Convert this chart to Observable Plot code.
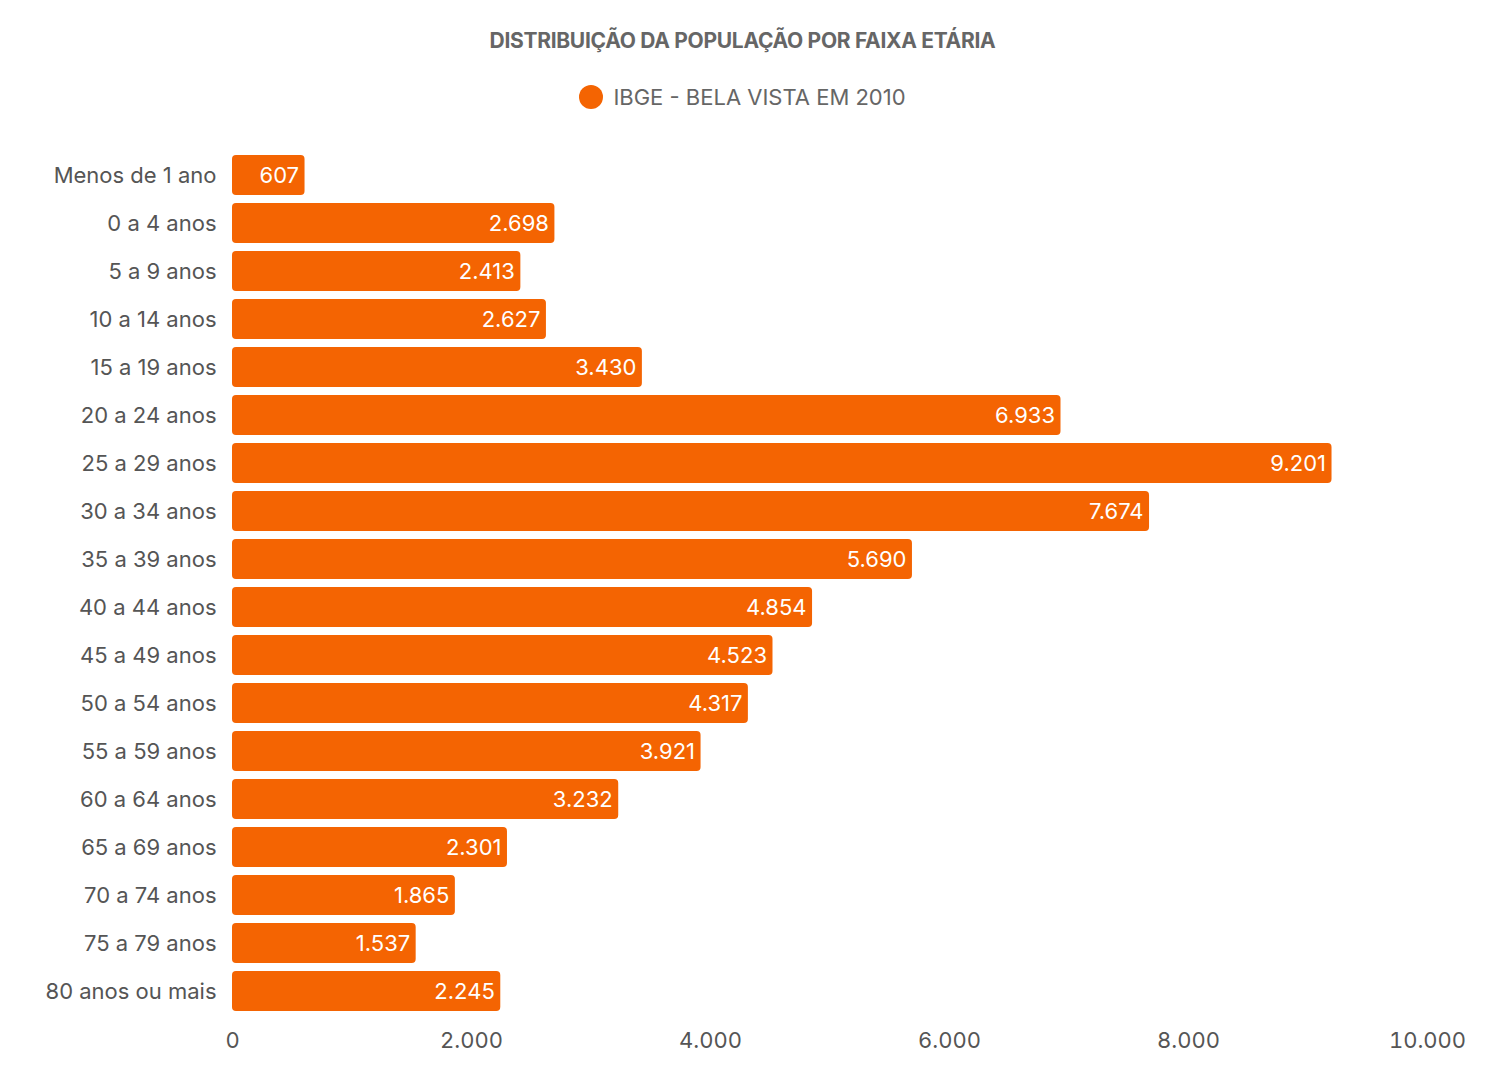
<!DOCTYPE html>
<html><head><meta charset="utf-8">
<script src="https://cdn.jsdelivr.net/npm/d3@7"></script>
<script src="https://cdn.jsdelivr.net/npm/@observablehq/plot@0.6"></script>
<style>
body{margin:0;background:#fff;font-family:Inter,"Open Sans",sans-serif;width:1485px}
#title{height:30px;padding-top:28px;text-align:center;font-weight:700;font-size:21px;color:#666;letter-spacing:-0.3px}
#legend{height:77px;display:flex;justify-content:center;align-items:center;font-size:22px;color:#666;padding-bottom:0}
#legend span.dot{display:inline-block;width:24px;height:24px;border-radius:50%;background:#f46402;margin-right:10px}
</style></head><body>
<div id="title">DISTRIBUIÇÃO DA POPULAÇÃO POR FAIXA ETÁRIA</div>
<div id="legend"><span class="dot"></span>IBGE - BELA VISTA EM 2010</div>
<div id="chart"></div>
<script>
const categories = ["Menos de 1 ano","0 a 4 anos","5 a 9 anos","10 a 14 anos","15 a 19 anos","20 a 24 anos","25 a 29 anos","30 a 34 anos","35 a 39 anos","40 a 44 anos","45 a 49 anos","50 a 54 anos","55 a 59 anos","60 a 64 anos","65 a 69 anos","70 a 74 anos","75 a 79 anos","80 anos ou mais"];
const values = [607,2698,2413,2627,3430,6933,9201,7674,5690,4854,4523,4317,3921,3232,2301,1865,1537,2245];
const xTicks = [0,2000,4000,6000,8000,10000];
const data = categories.map((c,i)=>({c, v: values[i]}));
const loc = d3.formatLocale({decimal:",",thousands:".",grouping:[3],currency:["R$",""]});
const fmt = loc.format(",d");
const chart = Plot.plot({
  width:1485, height:935,
  marginLeft:232, marginRight:58, marginTop:10, marginBottom:50,
  style:{fontFamily:"Inter, 'Open Sans', sans-serif", fontSize:"22px", color:"#555", background:"#fff"},
  x:{domain:[0,10000], ticks:xTicks, tickFormat:fmt, label:null, tickSize:0, tickPadding:12},
  y:{domain:categories, padding:0.17, label:null, tickSize:0, tickPadding:16},
  marks:[
    Plot.barX(data,{x:"v", y:"c", fill:"#f46402", rx:4}),
    Plot.text(data,{x:"v", y:"c", text:d=>fmt(d.v), textAnchor:"end", dx:-6, fill:"white", fontSize:22})
  ]
});
document.getElementById("chart").appendChild(chart);
</script></body></html>
